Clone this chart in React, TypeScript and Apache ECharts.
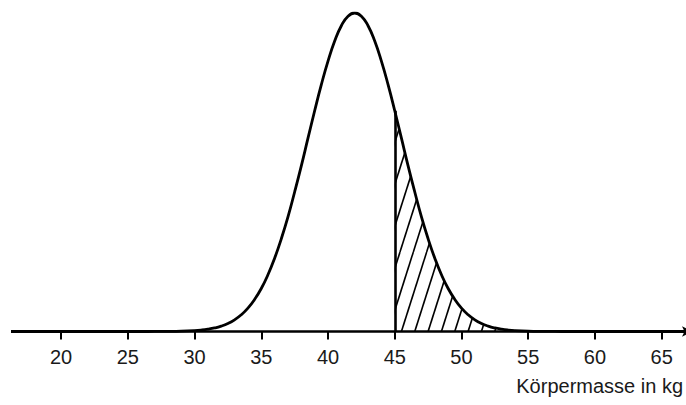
import React, { useEffect, useRef } from "react";
import * as echarts from "echarts";

// Körpermasse (kg) and relative density
const massKg = [
  16, 18, 20, 22, 24, 26, 27, 28, 29,
  30, 30.5, 31, 31.5, 32, 32.5, 33, 33.5, 34, 34.5, 35, 35.5, 36, 36.5, 37, 37.5,
  38, 38.5, 39, 39.5, 40, 40.5, 41, 41.5, 42,
  42.5, 43, 43.5, 44, 44.5, 45, 45.5, 46, 46.5, 47, 47.5, 48, 48.5, 49, 49.5,
  50, 50.5, 51, 51.5, 52, 52.5, 53, 53.5, 54,
  55, 56, 57, 58, 60, 62, 64, 66, 68,
];
const density = [
  0, 0, 0, 0, 0, 0, 0.0001, 0.0003, 0.001,
  0.0028, 0.0045, 0.0072, 0.0111, 0.0169, 0.0251, 0.0367, 0.0524, 0.0734, 0.1007, 0.135, 0.178, 0.23, 0.291, 0.36, 0.438,
  0.52, 0.607, 0.693, 0.775, 0.849, 0.912, 0.96, 0.99, 1,
  0.99, 0.96, 0.912, 0.849, 0.775, 0.693, 0.607, 0.52, 0.438, 0.36, 0.291, 0.23, 0.178, 0.135, 0.1007,
  0.0734, 0.0524, 0.0367, 0.0251, 0.0169, 0.0111, 0.0072, 0.0045, 0.0028,
  0.001, 0.0003, 0.0001, 0, 0, 0, 0, 0, 0,
];
const tickValues = [20, 25, 30, 35, 40, 45, 50, 55, 60, 65];
const shadeFrom = 45;
const axisTitle = "Körpermasse in kg";

export default function App() {
  const ref = useRef<HTMLDivElement>(null);

  useEffect(() => {
    document.body.style.margin = "0";
    if (!ref.current) return;
    const chart = echarts.init(ref.current, undefined, { renderer: "svg" });

    const curve = massKg.map((x, i) => [x, density[i]]);
    const shaded = curve.filter((p) => p[0] >= shadeFrom);
    const yAtShade = density[massKg.indexOf(shadeFrom)];

    // hatch pattern tile
    const W = 40;
    const H = 126;
    const c = document.createElement("canvas");
    c.width = W;
    c.height = H;
    const ctx = c.getContext("2d")!;
    ctx.strokeStyle = "#000";
    ctx.lineWidth = 1.6;
    for (let k = -3; k <= 3; k++) {
      const off = (k * W) / 3;
      ctx.beginPath();
      ctx.moveTo(off, H);
      ctx.lineTo(off + W, 0);
      ctx.stroke();
    }

    const font = "'Liberation Sans', Arial, Helvetica, sans-serif";

    chart.setOption({
      animation: false,
      grid: { left: 13, right: 2, top: 13, bottom: 73.5, containLabel: false, outerBoundsMode: "none" },
      xAxis: {
        type: "value",
        min: 16.4,
        max: 66.67,
        splitLine: { show: false },
        axisLine: {
          show: true,
          onZero: false,
          lineStyle: { color: "#000", width: 2.6 },
          symbol: ["none", "arrow"],
          symbolSize: [8, 10],
          symbolOffset: [0, 8],
        },
        axisTick: {
          show: true,
          length: 8,
          lineStyle: { color: "#000", width: 2 },
          customValues: tickValues,
        },
        axisLabel: {
          show: true,
          margin: 15,
          fontSize: 20,
          fontFamily: font,
          color: "#1a1a1a",
          customValues: tickValues,
        },
      },
      yAxis: { type: "value", min: 0, max: 1, show: false },
      series: [
        {
          type: "line",
          data: shaded,
          smooth: true,
          showSymbol: false,
          silent: true,
          z: 2,
          lineStyle: { width: 0, opacity: 0 },
          areaStyle: {
            opacity: 1,
            color: { image: c, repeat: "repeat", imageWidth: W, imageHeight: H, x: 5.3, y: 0 } as any,
          },
          markLine: {
            silent: true,
            symbol: ["none", "none"],
            label: { show: false },
            lineStyle: { color: "#000", width: 2.6, type: "solid" },
            data: [[{ coord: [shadeFrom, 0] }, { coord: [shadeFrom, yAtShade] }]],
          },
        },
        {
          type: "line",
          data: curve,
          smooth: true,
          showSymbol: false,
          silent: true,
          z: 3,
          lineStyle: { color: "#000", width: 2.8 },
        },
      ],
      graphic: [
        {
          type: "text",
          right: 3,
          top: 376,
          style: {
            text: axisTitle,
            fontSize: 20,
            fontFamily: font,
            fill: "#1a1a1a",
          },
        },
      ],
    });

    return () => chart.dispose();
  }, []);

  return <div ref={ref} style={{ width: 686, height: 405 }} />;
}
